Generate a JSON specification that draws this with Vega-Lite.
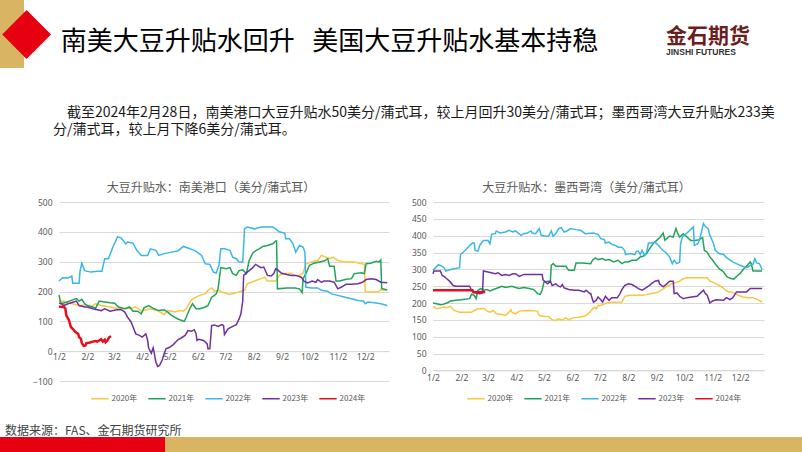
{
  "$schema": "https://vega.github.io/schema/vega-lite/v6.json",
  "padding": 0,
  "background": "white",
  "config": {
    "view": {"stroke": null},
    "font": "Noto Sans CJK SC",
    "axis": {"labelFont": "Noto Sans", "labelFontSize": 8.5, "labelColor": "#595959", "gridColor": "#d9d9d9", "domainColor": "#d9d9d9", "ticks": false},
    "legend": {"symbolType": "stroke", "symbolSize": 300, "symbolStrokeWidth": 1.5, "labelFontSize": 8, "labelColor": "#595959", "labelFont": "Noto Sans CJK SC", "columnPadding": 7, "labelOffset": 2},
    "title": {"font": "Noto Sans CJK SC", "fontSize": 12, "fontWeight": "normal", "color": "#595959", "anchor": "middle", "frame": "group", "offset": 3.3}
  },
  "datasets": {
    "south": [
      {"date":"2000-01-02","year":"2020年","value":167},{"date":"2000-01-07","year":"2020年","value":168},{"date":"2000-01-12","year":"2020年","value":161},{"date":"2000-01-17","year":"2020年","value":159},{"date":"2000-01-24","year":"2020年","value":153},{"date":"2000-02-01","year":"2020年","value":155},{"date":"2000-02-06","year":"2020年","value":148},{"date":"2000-02-11","year":"2020年","value":159},{"date":"2000-02-17","year":"2020年","value":153},{"date":"2000-02-27","year":"2020年","value":148},{"date":"2000-03-07","year":"2020年","value":142},{"date":"2000-03-14","year":"2020年","value":142},{"date":"2000-03-21","year":"2020年","value":145},{"date":"2000-03-26","year":"2020年","value":148},{"date":"2000-04-01","year":"2020年","value":134},{"date":"2000-04-06","year":"2020年","value":139},{"date":"2000-04-11","year":"2020年","value":142},{"date":"2000-04-19","year":"2020年","value":136},{"date":"2000-04-26","year":"2020年","value":123},{"date":"2000-04-30","year":"2020年","value":136},{"date":"2000-05-08","year":"2020年","value":131},{"date":"2000-05-13","year":"2020年","value":136},{"date":"2000-05-17","year":"2020年","value":134},{"date":"2000-05-20","year":"2020年","value":142},{"date":"2000-05-26","year":"2020年","value":172},{"date":"2000-05-31","year":"2020年","value":181},{"date":"2000-06-04","year":"2020年","value":187},{"date":"2000-06-10","year":"2020年","value":192},{"date":"2000-06-13","year":"2020年","value":204},{"date":"2000-06-17","year":"2020年","value":212},{"date":"2000-06-20","year":"2020年","value":201},{"date":"2000-06-24","year":"2020年","value":204},{"date":"2000-07-01","year":"2020年","value":195},{"date":"2000-07-07","year":"2020年","value":190},{"date":"2000-07-16","year":"2020年","value":198},{"date":"2000-07-23","year":"2020年","value":204},{"date":"2000-07-26","year":"2020年","value":226},{"date":"2000-08-03","year":"2020年","value":235},{"date":"2000-08-10","year":"2020年","value":243},{"date":"2000-08-14","year":"2020年","value":248},{"date":"2000-08-17","year":"2020年","value":235},{"date":"2000-08-26","year":"2020年","value":235},{"date":"2000-08-30","year":"2020年","value":254},{"date":"2000-09-05","year":"2020年","value":260},{"date":"2000-09-12","year":"2020年","value":260},{"date":"2000-09-16","year":"2020年","value":254},{"date":"2000-09-21","year":"2020年","value":254},{"date":"2000-09-25","year":"2020年","value":262},{"date":"2000-09-28","year":"2020年","value":293},{"date":"2000-10-04","year":"2020年","value":299},{"date":"2000-10-11","year":"2020年","value":304},{"date":"2000-10-15","year":"2020年","value":321},{"date":"2000-10-20","year":"2020年","value":315},{"date":"2000-10-24","year":"2020年","value":310},{"date":"2000-10-28","year":"2020年","value":315},{"date":"2000-11-02","year":"2020年","value":304},{"date":"2000-11-10","year":"2020年","value":299},{"date":"2000-11-20","year":"2020年","value":299},{"date":"2000-11-28","year":"2020年","value":293},{"date":"2000-12-01","year":"2020年","value":291},{"date":"2000-12-02","year":"2020年","value":198},{"date":"2000-12-16","year":"2020年","value":198},{"date":"2000-12-19","year":"2020年","value":206},{"date":"2000-12-26","year":"2020年","value":204},
      {"date":"2000-01-02","year":"2021年","value":189},{"date":"2000-01-04","year":"2021年","value":159},{"date":"2000-01-10","year":"2021年","value":164},{"date":"2000-01-17","year":"2021年","value":172},{"date":"2000-01-21","year":"2021年","value":176},{"date":"2000-01-24","year":"2021年","value":168},{"date":"2000-01-27","year":"2021年","value":174},{"date":"2000-01-30","year":"2021年","value":159},{"date":"2000-02-02","year":"2021年","value":153},{"date":"2000-02-08","year":"2021年","value":148},{"date":"2000-02-11","year":"2021年","value":144},{"date":"2000-02-15","year":"2021年","value":168},{"date":"2000-02-19","year":"2021年","value":166},{"date":"2000-02-27","year":"2021年","value":162},{"date":"2000-03-03","year":"2021年","value":161},{"date":"2000-03-07","year":"2021年","value":148},{"date":"2000-03-14","year":"2021年","value":142},{"date":"2000-03-19","year":"2021年","value":148},{"date":"2000-03-23","year":"2021年","value":134},{"date":"2000-03-28","year":"2021年","value":134},{"date":"2000-04-01","year":"2021年","value":125},{"date":"2000-04-04","year":"2021年","value":145},{"date":"2000-04-09","year":"2021年","value":153},{"date":"2000-04-15","year":"2021年","value":142},{"date":"2000-04-20","year":"2021年","value":136},{"date":"2000-04-26","year":"2021年","value":139},{"date":"2000-04-30","year":"2021年","value":131},{"date":"2000-05-04","year":"2021年","value":120},{"date":"2000-05-11","year":"2021年","value":108},{"date":"2000-05-18","year":"2021年","value":100},{"date":"2000-05-20","year":"2021年","value":112},{"date":"2000-05-24","year":"2021年","value":142},{"date":"2000-05-27","year":"2021年","value":159},{"date":"2000-05-31","year":"2021年","value":142},{"date":"2000-06-04","year":"2021年","value":142},{"date":"2000-06-10","year":"2021年","value":148},{"date":"2000-06-13","year":"2021年","value":153},{"date":"2000-06-17","year":"2021年","value":181},{"date":"2000-06-20","year":"2021年","value":187},{"date":"2000-06-22","year":"2021年","value":192},{"date":"2000-06-24","year":"2021年","value":209},{"date":"2000-06-27","year":"2021年","value":280},{"date":"2000-07-03","year":"2021年","value":276},{"date":"2000-07-07","year":"2021年","value":280},{"date":"2000-07-10","year":"2021年","value":260},{"date":"2000-07-14","year":"2021年","value":254},{"date":"2000-07-17","year":"2021年","value":270},{"date":"2000-07-21","year":"2021年","value":273},{"date":"2000-07-25","year":"2021年","value":260},{"date":"2000-07-28","year":"2021年","value":304},{"date":"2000-08-01","year":"2021年","value":329},{"date":"2000-08-04","year":"2021年","value":336},{"date":"2000-08-08","year":"2021年","value":343},{"date":"2000-08-12","year":"2021年","value":351},{"date":"2000-08-17","year":"2021年","value":354},{"date":"2000-08-23","year":"2021年","value":360},{"date":"2000-08-26","year":"2021年","value":369},{"date":"2000-08-27","year":"2021年","value":369},{"date":"2000-08-28","year":"2021年","value":209},{"date":"2000-09-07","year":"2021年","value":212},{"date":"2000-09-16","year":"2021年","value":212},{"date":"2000-09-21","year":"2021年","value":209},{"date":"2000-09-24","year":"2021年","value":196},{"date":"2000-09-25","year":"2021年","value":243},{"date":"2000-09-28","year":"2021年","value":260},{"date":"2000-10-02","year":"2021年","value":288},{"date":"2000-10-07","year":"2021年","value":295},{"date":"2000-10-13","year":"2021年","value":299},{"date":"2000-10-18","year":"2021年","value":302},{"date":"2000-10-22","year":"2021年","value":310},{"date":"2000-10-24","year":"2021年","value":285},{"date":"2000-10-29","year":"2021年","value":285},{"date":"2000-10-31","year":"2021年","value":235},{"date":"2000-11-04","year":"2021年","value":235},{"date":"2000-11-10","year":"2021年","value":240},{"date":"2000-11-17","year":"2021年","value":243},{"date":"2000-11-20","year":"2021年","value":260},{"date":"2000-11-28","year":"2021年","value":263},{"date":"2000-12-01","year":"2021年","value":260},{"date":"2000-12-03","year":"2021年","value":293},{"date":"2000-12-08","year":"2021年","value":295},{"date":"2000-12-14","year":"2021年","value":301},{"date":"2000-12-17","year":"2021年","value":299},{"date":"2000-12-19","year":"2021年","value":306},{"date":"2000-12-20","year":"2021年","value":210},{"date":"2000-12-26","year":"2021年","value":205},
      {"date":"2000-01-02","year":"2022年","value":235},{"date":"2000-01-06","year":"2022年","value":246},{"date":"2000-01-12","year":"2022年","value":245},{"date":"2000-01-16","year":"2022年","value":252},{"date":"2000-01-17","year":"2022年","value":228},{"date":"2000-01-24","year":"2022年","value":228},{"date":"2000-01-25","year":"2022年","value":268},{"date":"2000-01-27","year":"2022年","value":295},{"date":"2000-01-30","year":"2022年","value":270},{"date":"2000-02-06","year":"2022年","value":265},{"date":"2000-02-13","year":"2022年","value":268},{"date":"2000-02-18","year":"2022年","value":268},{"date":"2000-02-21","year":"2022年","value":310},{"date":"2000-02-25","year":"2022年","value":310},{"date":"2000-03-01","year":"2022年","value":349},{"date":"2000-03-06","year":"2022年","value":383},{"date":"2000-03-10","year":"2022年","value":380},{"date":"2000-03-15","year":"2022年","value":360},{"date":"2000-03-17","year":"2022年","value":366},{"date":"2000-03-23","year":"2022年","value":362},{"date":"2000-03-27","year":"2022年","value":338},{"date":"2000-04-01","year":"2022年","value":321},{"date":"2000-04-08","year":"2022年","value":321},{"date":"2000-04-11","year":"2022年","value":343},{"date":"2000-04-17","year":"2022年","value":338},{"date":"2000-04-20","year":"2022年","value":321},{"date":"2000-04-26","year":"2022年","value":327},{"date":"2000-05-04","year":"2022年","value":332},{"date":"2000-05-11","year":"2022年","value":336},{"date":"2000-05-17","year":"2022年","value":351},{"date":"2000-05-22","year":"2022年","value":346},{"date":"2000-05-29","year":"2022年","value":338},{"date":"2000-06-01","year":"2022年","value":332},{"date":"2000-06-06","year":"2022年","value":321},{"date":"2000-06-10","year":"2022年","value":293},{"date":"2000-06-15","year":"2022年","value":291},{"date":"2000-06-19","year":"2022年","value":265},{"date":"2000-06-22","year":"2022年","value":262},{"date":"2000-06-25","year":"2022年","value":288},{"date":"2000-06-27","year":"2022年","value":343},{"date":"2000-07-01","year":"2022年","value":343},{"date":"2000-07-07","year":"2022年","value":338},{"date":"2000-07-10","year":"2022年","value":315},{"date":"2000-07-14","year":"2022年","value":310},{"date":"2000-07-17","year":"2022年","value":299},{"date":"2000-07-21","year":"2022年","value":299},{"date":"2000-07-23","year":"2022年","value":410},{"date":"2000-07-26","year":"2022年","value":416},{"date":"2000-08-03","year":"2022年","value":410},{"date":"2000-08-10","year":"2022年","value":416},{"date":"2000-08-23","year":"2022年","value":416},{"date":"2000-08-26","year":"2022年","value":410},{"date":"2000-08-30","year":"2022年","value":400},{"date":"2000-09-05","year":"2022年","value":396},{"date":"2000-09-06","year":"2022年","value":377},{"date":"2000-09-10","year":"2022年","value":377},{"date":"2000-09-14","year":"2022年","value":360},{"date":"2000-09-17","year":"2022年","value":332},{"date":"2000-09-21","year":"2022年","value":354},{"date":"2000-09-25","year":"2022年","value":349},{"date":"2000-09-27","year":"2022年","value":332},{"date":"2000-09-28","year":"2022年","value":215},{"date":"2000-10-04","year":"2022年","value":212},{"date":"2000-10-11","year":"2022年","value":212},{"date":"2000-10-15","year":"2022年","value":204},{"date":"2000-10-22","year":"2022年","value":201},{"date":"2000-10-26","year":"2022年","value":192},{"date":"2000-11-02","year":"2022年","value":187},{"date":"2000-11-10","year":"2022年","value":181},{"date":"2000-11-17","year":"2022年","value":176},{"date":"2000-11-24","year":"2022年","value":170},{"date":"2000-11-30","year":"2022年","value":168},{"date":"2000-12-02","year":"2022年","value":159},{"date":"2000-12-05","year":"2022年","value":165},{"date":"2000-12-12","year":"2022年","value":162},{"date":"2000-12-19","year":"2022年","value":159},{"date":"2000-12-26","year":"2022年","value":153},
      {"date":"2000-01-02","year":"2023年","value":161},{"date":"2000-01-05","year":"2023年","value":159},{"date":"2000-01-07","year":"2023年","value":153},{"date":"2000-01-12","year":"2023年","value":159},{"date":"2000-01-17","year":"2023年","value":164},{"date":"2000-01-21","year":"2023年","value":168},{"date":"2000-01-24","year":"2023年","value":153},{"date":"2000-01-30","year":"2023年","value":148},{"date":"2000-02-02","year":"2023年","value":148},{"date":"2000-02-08","year":"2023年","value":142},{"date":"2000-02-13","year":"2023年","value":139},{"date":"2000-02-17","year":"2023年","value":136},{"date":"2000-02-21","year":"2023年","value":142},{"date":"2000-02-27","year":"2023年","value":134},{"date":"2000-03-05","year":"2023年","value":139},{"date":"2000-03-10","year":"2023年","value":139},{"date":"2000-03-14","year":"2023年","value":131},{"date":"2000-03-17","year":"2023年","value":114},{"date":"2000-03-21","year":"2023年","value":97},{"date":"2000-03-23","year":"2023年","value":81},{"date":"2000-03-26","year":"2023年","value":58},{"date":"2000-03-30","year":"2023年","value":53},{"date":"2000-04-02","year":"2023年","value":47},{"date":"2000-04-06","year":"2023年","value":58},{"date":"2000-04-08","year":"2023年","value":36},{"date":"2000-04-09","year":"2023年","value":11},{"date":"2000-04-12","year":"2023年","value":-7},{"date":"2000-04-14","year":"2023年","value":11},{"date":"2000-04-15","year":"2023年","value":-3},{"date":"2000-04-17","year":"2023年","value":-37},{"date":"2000-04-19","year":"2023年","value":-51},{"date":"2000-04-21","year":"2023年","value":-48},{"date":"2000-04-24","year":"2023年","value":-29},{"date":"2000-04-26","year":"2023年","value":-9},{"date":"2000-04-28","year":"2023年","value":8},{"date":"2000-05-02","year":"2023年","value":13},{"date":"2000-05-06","year":"2023年","value":22},{"date":"2000-05-11","year":"2023年","value":38},{"date":"2000-05-15","year":"2023年","value":45},{"date":"2000-05-19","year":"2023年","value":53},{"date":"2000-05-22","year":"2023年","value":69},{"date":"2000-05-26","year":"2023年","value":67},{"date":"2000-05-29","year":"2023年","value":72},{"date":"2000-05-31","year":"2023年","value":58},{"date":"2000-06-01","year":"2023年","value":36},{"date":"2000-06-03","year":"2023年","value":40},{"date":"2000-06-08","year":"2023年","value":36},{"date":"2000-06-12","year":"2023年","value":25},{"date":"2000-06-13","year":"2023年","value":8},{"date":"2000-06-15","year":"2023年","value":9},{"date":"2000-06-17","year":"2023年","value":86},{"date":"2000-06-20","year":"2023年","value":88},{"date":"2000-06-24","year":"2023年","value":83},{"date":"2000-06-28","year":"2023年","value":89},{"date":"2000-06-30","year":"2023年","value":86},{"date":"2000-07-01","year":"2023年","value":56},{"date":"2000-07-05","year":"2023年","value":75},{"date":"2000-07-10","year":"2023年","value":83},{"date":"2000-07-14","year":"2023年","value":89},{"date":"2000-07-17","year":"2023年","value":108},{"date":"2000-07-19","year":"2023年","value":125},{"date":"2000-07-21","year":"2023年","value":168},{"date":"2000-07-22","year":"2023年","value":254},{"date":"2000-07-26","year":"2023年","value":265},{"date":"2000-08-01","year":"2023年","value":280},{"date":"2000-08-04","year":"2023年","value":291},{"date":"2000-08-10","year":"2023年","value":280},{"date":"2000-08-13","year":"2023年","value":282},{"date":"2000-08-17","year":"2023年","value":254},{"date":"2000-08-21","year":"2023年","value":252},{"date":"2000-08-24","year":"2023年","value":260},{"date":"2000-08-26","year":"2023年","value":276},{"date":"2000-08-28","year":"2023年","value":273},{"date":"2000-09-01","year":"2023年","value":262},{"date":"2000-09-07","year":"2023年","value":257},{"date":"2000-09-12","year":"2023年","value":254},{"date":"2000-09-17","year":"2023年","value":254},{"date":"2000-09-23","year":"2023年","value":248},{"date":"2000-09-26","year":"2023年","value":235},{"date":"2000-09-30","year":"2023年","value":229},{"date":"2000-10-05","year":"2023年","value":235},{"date":"2000-10-09","year":"2023年","value":231},{"date":"2000-10-11","year":"2023年","value":240},{"date":"2000-10-15","year":"2023年","value":231},{"date":"2000-10-18","year":"2023年","value":235},{"date":"2000-10-24","year":"2023年","value":235},{"date":"2000-10-29","year":"2023年","value":231},{"date":"2000-11-02","year":"2023年","value":209},{"date":"2000-11-06","year":"2023年","value":215},{"date":"2000-11-11","year":"2023年","value":224},{"date":"2000-11-17","year":"2023年","value":224},{"date":"2000-11-24","year":"2023年","value":226},{"date":"2000-11-29","year":"2023年","value":231},{"date":"2000-12-03","year":"2023年","value":240},{"date":"2000-12-08","year":"2023年","value":243},{"date":"2000-12-14","year":"2023年","value":240},{"date":"2000-12-19","year":"2023年","value":231},{"date":"2000-12-26","year":"2023年","value":229},
      {"date":"2000-01-02","year":"2024年","value":150},{"date":"2000-01-05","year":"2024年","value":148},{"date":"2000-01-07","year":"2024年","value":150},{"date":"2000-01-09","year":"2024年","value":142},{"date":"2000-01-10","year":"2024年","value":120},{"date":"2000-01-13","year":"2024年","value":103},{"date":"2000-01-15","year":"2024年","value":81},{"date":"2000-01-17","year":"2024年","value":75},{"date":"2000-01-20","year":"2024年","value":64},{"date":"2000-01-23","year":"2024年","value":58},{"date":"2000-01-24","year":"2024年","value":47},{"date":"2000-01-26","year":"2024年","value":41},{"date":"2000-01-27","year":"2024年","value":27},{"date":"2000-01-29","year":"2024年","value":18},{"date":"2000-01-31","year":"2024年","value":19},{"date":"2000-02-01","year":"2024年","value":27},{"date":"2000-02-04","year":"2024年","value":28},{"date":"2000-02-08","year":"2024年","value":32},{"date":"2000-02-11","year":"2024年","value":34},{"date":"2000-02-13","year":"2024年","value":32},{"date":"2000-02-15","year":"2024年","value":36},{"date":"2000-02-17","year":"2024年","value":40},{"date":"2000-02-19","year":"2024年","value":32},{"date":"2000-02-21","year":"2024年","value":38},{"date":"2000-02-22","year":"2024年","value":30},{"date":"2000-02-24","year":"2024年","value":36},{"date":"2000-02-26","year":"2024年","value":47},{"date":"2000-02-28","year":"2024年","value":50}
    ],
    "gulf": [
      {"date":"2000-01-02","year":"2020年","value":190},{"date":"2000-01-06","year":"2020年","value":183},{"date":"2000-01-14","year":"2020年","value":188},{"date":"2000-01-17","year":"2020年","value":186},{"date":"2000-01-21","year":"2020年","value":190},{"date":"2000-01-25","year":"2020年","value":178},{"date":"2000-01-31","year":"2020年","value":173},{"date":"2000-02-13","year":"2020年","value":173},{"date":"2000-02-16","year":"2020年","value":178},{"date":"2000-02-20","year":"2020年","value":183},{"date":"2000-02-27","year":"2020年","value":183},{"date":"2000-03-01","year":"2020年","value":176},{"date":"2000-03-04","year":"2020年","value":173},{"date":"2000-03-08","year":"2020年","value":178},{"date":"2000-03-11","year":"2020年","value":168},{"date":"2000-03-17","year":"2020年","value":166},{"date":"2000-03-21","year":"2020年","value":163},{"date":"2000-03-25","year":"2020年","value":173},{"date":"2000-03-27","year":"2020年","value":180},{"date":"2000-03-28","year":"2020年","value":173},{"date":"2000-04-01","year":"2020年","value":168},{"date":"2000-04-05","year":"2020年","value":176},{"date":"2000-04-16","year":"2020年","value":178},{"date":"2000-04-25","year":"2020年","value":176},{"date":"2000-04-27","year":"2020年","value":163},{"date":"2000-05-02","year":"2020年","value":160},{"date":"2000-05-07","year":"2020年","value":160},{"date":"2000-05-11","year":"2020年","value":150},{"date":"2000-05-15","year":"2020年","value":149},{"date":"2000-05-18","year":"2020年","value":153},{"date":"2000-05-22","year":"2020年","value":150},{"date":"2000-05-26","year":"2020年","value":156},{"date":"2000-05-29","year":"2020年","value":150},{"date":"2000-06-02","year":"2020年","value":156},{"date":"2000-06-09","year":"2020年","value":158},{"date":"2000-06-13","year":"2020年","value":160},{"date":"2000-06-17","year":"2020年","value":163},{"date":"2000-06-21","year":"2020年","value":173},{"date":"2000-06-24","year":"2020年","value":183},{"date":"2000-06-26","year":"2020年","value":188},{"date":"2000-06-28","year":"2020年","value":183},{"date":"2000-06-30","year":"2020年","value":193},{"date":"2000-07-03","year":"2020年","value":193},{"date":"2000-07-07","year":"2020年","value":198},{"date":"2000-07-10","year":"2020年","value":200},{"date":"2000-07-15","year":"2020年","value":202},{"date":"2000-07-26","year":"2020年","value":203},{"date":"2000-07-29","year":"2020年","value":220},{"date":"2000-08-04","year":"2020年","value":223},{"date":"2000-08-17","year":"2020年","value":223},{"date":"2000-08-22","year":"2020年","value":225},{"date":"2000-08-27","year":"2020年","value":228},{"date":"2000-08-31","year":"2020年","value":230},{"date":"2000-09-04","year":"2020年","value":233},{"date":"2000-09-07","year":"2020年","value":238},{"date":"2000-09-11","year":"2020年","value":246},{"date":"2000-09-15","year":"2020年","value":252},{"date":"2000-09-18","year":"2020年","value":257},{"date":"2000-09-22","year":"2020年","value":260},{"date":"2000-09-27","year":"2020年","value":265},{"date":"2000-10-01","year":"2020年","value":272},{"date":"2000-10-05","year":"2020年","value":275},{"date":"2000-10-27","year":"2020年","value":275},{"date":"2000-10-30","year":"2020年","value":265},{"date":"2000-11-02","year":"2020年","value":262},{"date":"2000-11-06","year":"2020年","value":257},{"date":"2000-11-09","year":"2020年","value":252},{"date":"2000-11-13","year":"2020年","value":246},{"date":"2000-11-16","year":"2020年","value":238},{"date":"2000-11-20","year":"2020年","value":233},{"date":"2000-11-23","year":"2020年","value":233},{"date":"2000-11-27","year":"2020年","value":228},{"date":"2000-11-30","year":"2020年","value":223},{"date":"2000-12-05","year":"2020年","value":218},{"date":"2000-12-11","year":"2020年","value":216},{"date":"2000-12-16","year":"2020年","value":216},{"date":"2000-12-21","year":"2020年","value":210},{"date":"2000-12-26","year":"2020年","value":203},
      {"date":"2000-01-02","year":"2021年","value":200},{"date":"2000-01-06","year":"2021年","value":198},{"date":"2000-01-10","year":"2021年","value":195},{"date":"2000-01-13","year":"2021年","value":196},{"date":"2000-01-17","year":"2021年","value":200},{"date":"2000-01-21","year":"2021年","value":206},{"date":"2000-01-27","year":"2021年","value":208},{"date":"2000-02-02","year":"2021年","value":210},{"date":"2000-02-11","year":"2021年","value":213},{"date":"2000-02-13","year":"2021年","value":226},{"date":"2000-02-16","year":"2021年","value":223},{"date":"2000-02-18","year":"2021年","value":213},{"date":"2000-02-20","year":"2021年","value":238},{"date":"2000-02-23","year":"2021年","value":243},{"date":"2000-02-26","year":"2021年","value":238},{"date":"2000-03-01","year":"2021年","value":240},{"date":"2000-03-04","year":"2021年","value":236},{"date":"2000-03-08","year":"2021年","value":240},{"date":"2000-03-11","year":"2021年","value":243},{"date":"2000-03-17","year":"2021年","value":250},{"date":"2000-03-21","year":"2021年","value":246},{"date":"2000-03-28","year":"2021年","value":250},{"date":"2000-04-01","year":"2021年","value":246},{"date":"2000-04-05","year":"2021年","value":243},{"date":"2000-04-10","year":"2021年","value":246},{"date":"2000-04-16","year":"2021年","value":243},{"date":"2000-04-21","year":"2021年","value":240},{"date":"2000-04-25","year":"2021年","value":228},{"date":"2000-04-28","year":"2021年","value":226},{"date":"2000-04-30","year":"2021年","value":238},{"date":"2000-05-02","year":"2021年","value":262},{"date":"2000-05-06","year":"2021年","value":265},{"date":"2000-05-09","year":"2021年","value":265},{"date":"2000-05-10","year":"2021年","value":312},{"date":"2000-05-12","year":"2021年","value":317},{"date":"2000-05-15","year":"2021年","value":309},{"date":"2000-05-26","year":"2021年","value":309},{"date":"2000-05-29","year":"2021年","value":297},{"date":"2000-06-04","year":"2021年","value":297},{"date":"2000-06-06","year":"2021年","value":319},{"date":"2000-06-13","year":"2021年","value":319},{"date":"2000-06-22","year":"2021年","value":317},{"date":"2000-06-24","year":"2021年","value":327},{"date":"2000-06-27","year":"2021年","value":334},{"date":"2000-06-30","year":"2021年","value":329},{"date":"2000-07-05","year":"2021年","value":332},{"date":"2000-07-08","year":"2021年","value":327},{"date":"2000-07-12","year":"2021年","value":329},{"date":"2000-07-17","year":"2021年","value":322},{"date":"2000-07-22","year":"2021年","value":327},{"date":"2000-07-26","year":"2021年","value":317},{"date":"2000-07-29","year":"2021年","value":322},{"date":"2000-08-02","year":"2021年","value":322},{"date":"2000-08-06","year":"2021年","value":327},{"date":"2000-08-11","year":"2021年","value":327},{"date":"2000-08-15","year":"2021年","value":337},{"date":"2000-08-18","year":"2021年","value":339},{"date":"2000-08-22","year":"2021年","value":347},{"date":"2000-08-25","year":"2021年","value":361},{"date":"2000-08-29","year":"2021年","value":376},{"date":"2000-09-02","year":"2021年","value":386},{"date":"2000-09-06","year":"2021年","value":396},{"date":"2000-09-09","year":"2021年","value":408},{"date":"2000-09-11","year":"2021年","value":386},{"date":"2000-09-16","year":"2021年","value":399},{"date":"2000-09-20","year":"2021年","value":396},{"date":"2000-09-23","year":"2021年","value":421},{"date":"2000-09-25","year":"2021年","value":406},{"date":"2000-09-27","year":"2021年","value":396},{"date":"2000-10-01","year":"2021年","value":406},{"date":"2000-10-05","year":"2021年","value":396},{"date":"2000-10-09","year":"2021年","value":386},{"date":"2000-10-14","year":"2021年","value":386},{"date":"2000-10-18","year":"2021年","value":388},{"date":"2000-10-22","year":"2021年","value":394},{"date":"2000-10-24","year":"2021年","value":356},{"date":"2000-10-27","year":"2021年","value":351},{"date":"2000-10-30","year":"2021年","value":337},{"date":"2000-11-02","year":"2021年","value":327},{"date":"2000-11-06","year":"2021年","value":312},{"date":"2000-11-09","year":"2021年","value":302},{"date":"2000-11-13","year":"2021年","value":295},{"date":"2000-11-18","year":"2021年","value":277},{"date":"2000-11-22","year":"2021年","value":273},{"date":"2000-11-25","year":"2021年","value":271},{"date":"2000-11-29","year":"2021年","value":281},{"date":"2000-12-02","year":"2021年","value":288},{"date":"2000-12-06","year":"2021年","value":302},{"date":"2000-12-09","year":"2021年","value":309},{"date":"2000-12-13","year":"2021年","value":322},{"date":"2000-12-14","year":"2021年","value":317},{"date":"2000-12-16","year":"2021年","value":295},{"date":"2000-12-26","year":"2021年","value":295},
      {"date":"2000-01-02","year":"2022年","value":297},{"date":"2000-01-08","year":"2022年","value":314},{"date":"2000-01-12","year":"2022年","value":309},{"date":"2000-01-14","year":"2022年","value":305},{"date":"2000-01-16","year":"2022年","value":295},{"date":"2000-01-20","year":"2022年","value":299},{"date":"2000-01-25","year":"2022年","value":302},{"date":"2000-01-31","year":"2022年","value":305},{"date":"2000-02-01","year":"2022年","value":344},{"date":"2000-02-06","year":"2022年","value":356},{"date":"2000-02-11","year":"2022年","value":371},{"date":"2000-02-14","year":"2022年","value":378},{"date":"2000-02-16","year":"2022年","value":378},{"date":"2000-02-17","year":"2022年","value":356},{"date":"2000-02-20","year":"2022年","value":354},{"date":"2000-02-22","year":"2022年","value":371},{"date":"2000-02-26","year":"2022年","value":386},{"date":"2000-03-02","year":"2022年","value":386},{"date":"2000-03-04","year":"2022年","value":376},{"date":"2000-03-06","year":"2022年","value":404},{"date":"2000-03-10","year":"2022年","value":406},{"date":"2000-03-11","year":"2022年","value":414},{"date":"2000-03-15","year":"2022年","value":408},{"date":"2000-03-21","year":"2022年","value":411},{"date":"2000-03-25","year":"2022年","value":416},{"date":"2000-03-29","year":"2022年","value":411},{"date":"2000-04-01","year":"2022年","value":414},{"date":"2000-04-07","year":"2022年","value":401},{"date":"2000-04-10","year":"2022年","value":406},{"date":"2000-04-14","year":"2022年","value":408},{"date":"2000-04-18","year":"2022年","value":414},{"date":"2000-04-19","year":"2022年","value":408},{"date":"2000-04-23","year":"2022年","value":406},{"date":"2000-04-25","year":"2022年","value":414},{"date":"2000-04-27","year":"2022年","value":421},{"date":"2000-04-29","year":"2022年","value":401},{"date":"2000-05-04","year":"2022年","value":398},{"date":"2000-05-07","year":"2022年","value":398},{"date":"2000-05-10","year":"2022年","value":414},{"date":"2000-05-12","year":"2022年","value":398},{"date":"2000-05-15","year":"2022年","value":406},{"date":"2000-05-18","year":"2022年","value":421},{"date":"2000-05-21","year":"2022年","value":424},{"date":"2000-05-24","year":"2022年","value":411},{"date":"2000-05-27","year":"2022年","value":414},{"date":"2000-05-31","year":"2022年","value":421},{"date":"2000-06-06","year":"2022年","value":418},{"date":"2000-06-11","year":"2022年","value":416},{"date":"2000-06-16","year":"2022年","value":406},{"date":"2000-06-25","year":"2022年","value":408},{"date":"2000-06-30","year":"2022年","value":404},{"date":"2000-07-03","year":"2022年","value":391},{"date":"2000-07-07","year":"2022年","value":388},{"date":"2000-07-08","year":"2022年","value":378},{"date":"2000-07-12","year":"2022年","value":381},{"date":"2000-07-15","year":"2022年","value":374},{"date":"2000-07-19","year":"2022年","value":371},{"date":"2000-07-22","year":"2022年","value":366},{"date":"2000-07-26","year":"2022年","value":366},{"date":"2000-07-29","year":"2022年","value":356},{"date":"2000-07-30","year":"2022年","value":344},{"date":"2000-08-04","year":"2022年","value":347},{"date":"2000-08-09","year":"2022年","value":344},{"date":"2000-08-11","year":"2022年","value":354},{"date":"2000-08-13","year":"2022年","value":354},{"date":"2000-08-15","year":"2022年","value":344},{"date":"2000-08-17","year":"2022年","value":356},{"date":"2000-08-20","year":"2022年","value":341},{"date":"2000-08-22","year":"2022年","value":351},{"date":"2000-08-24","year":"2022年","value":378},{"date":"2000-08-27","year":"2022年","value":378},{"date":"2000-08-31","year":"2022年","value":381},{"date":"2000-09-04","year":"2022年","value":371},{"date":"2000-09-07","year":"2022年","value":361},{"date":"2000-09-13","year":"2022年","value":347},{"date":"2000-09-16","year":"2022年","value":337},{"date":"2000-09-19","year":"2022年","value":317},{"date":"2000-09-21","year":"2022年","value":327},{"date":"2000-09-24","year":"2022年","value":317},{"date":"2000-09-27","year":"2022年","value":322},{"date":"2000-09-28","year":"2022年","value":376},{"date":"2000-09-30","year":"2022年","value":396},{"date":"2000-10-05","year":"2022年","value":408},{"date":"2000-10-10","year":"2022年","value":421},{"date":"2000-10-12","year":"2022年","value":426},{"date":"2000-10-13","year":"2022年","value":371},{"date":"2000-10-17","year":"2022年","value":376},{"date":"2000-10-19","year":"2022年","value":391},{"date":"2000-10-23","year":"2022年","value":436},{"date":"2000-10-24","year":"2022年","value":431},{"date":"2000-10-28","year":"2022年","value":421},{"date":"2000-10-30","year":"2022年","value":401},{"date":"2000-11-03","year":"2022年","value":376},{"date":"2000-11-05","year":"2022年","value":356},{"date":"2000-11-09","year":"2022年","value":347},{"date":"2000-11-14","year":"2022年","value":344},{"date":"2000-11-17","year":"2022年","value":335},{"date":"2000-11-24","year":"2022年","value":322},{"date":"2000-12-02","year":"2022年","value":312},{"date":"2000-12-09","year":"2022年","value":305},{"date":"2000-12-13","year":"2022年","value":312},{"date":"2000-12-16","year":"2022年","value":315},{"date":"2000-12-18","year":"2022年","value":332},{"date":"2000-12-20","year":"2022年","value":319},{"date":"2000-12-23","year":"2022年","value":317},{"date":"2000-12-26","year":"2022年","value":299},
      {"date":"2000-01-02","year":"2023年","value":287},{"date":"2000-01-03","year":"2023年","value":295},{"date":"2000-01-10","year":"2023年","value":295},{"date":"2000-01-12","year":"2023年","value":282},{"date":"2000-01-14","year":"2023年","value":279},{"date":"2000-01-17","year":"2023年","value":272},{"date":"2000-01-20","year":"2023年","value":265},{"date":"2000-01-24","year":"2023年","value":252},{"date":"2000-01-27","year":"2023年","value":250},{"date":"2000-02-11","year":"2023年","value":250},{"date":"2000-02-13","year":"2023年","value":238},{"date":"2000-02-15","year":"2023年","value":233},{"date":"2000-02-18","year":"2023年","value":230},{"date":"2000-02-22","year":"2023年","value":228},{"date":"2000-02-25","year":"2023年","value":230},{"date":"2000-02-26","year":"2023年","value":295},{"date":"2000-03-02","year":"2023年","value":292},{"date":"2000-03-10","year":"2023年","value":287},{"date":"2000-03-13","year":"2023年","value":290},{"date":"2000-03-17","year":"2023年","value":282},{"date":"2000-03-21","year":"2023年","value":285},{"date":"2000-03-25","year":"2023年","value":282},{"date":"2000-03-29","year":"2023年","value":287},{"date":"2000-04-01","year":"2023年","value":287},{"date":"2000-04-05","year":"2023年","value":279},{"date":"2000-04-08","year":"2023年","value":282},{"date":"2000-04-10","year":"2023年","value":285},{"date":"2000-04-30","year":"2023年","value":285},{"date":"2000-05-01","year":"2023年","value":269},{"date":"2000-05-06","year":"2023年","value":257},{"date":"2000-05-09","year":"2023年","value":265},{"date":"2000-05-11","year":"2023年","value":252},{"date":"2000-05-15","year":"2023年","value":257},{"date":"2000-05-18","year":"2023年","value":250},{"date":"2000-05-20","year":"2023年","value":248},{"date":"2000-05-22","year":"2023年","value":255},{"date":"2000-05-24","year":"2023年","value":245},{"date":"2000-05-26","year":"2023年","value":243},{"date":"2000-05-29","year":"2023年","value":240},{"date":"2000-06-04","year":"2023年","value":238},{"date":"2000-06-09","year":"2023年","value":238},{"date":"2000-06-15","year":"2023年","value":233},{"date":"2000-06-17","year":"2023年","value":238},{"date":"2000-06-21","year":"2023年","value":228},{"date":"2000-06-22","year":"2023年","value":228},{"date":"2000-06-24","year":"2023年","value":210},{"date":"2000-06-25","year":"2023年","value":203},{"date":"2000-06-28","year":"2023年","value":208},{"date":"2000-06-30","year":"2023年","value":218},{"date":"2000-07-03","year":"2023年","value":210},{"date":"2000-07-05","year":"2023年","value":203},{"date":"2000-07-08","year":"2023年","value":220},{"date":"2000-07-12","year":"2023年","value":208},{"date":"2000-07-15","year":"2023年","value":216},{"date":"2000-07-21","year":"2023年","value":216},{"date":"2000-07-24","year":"2023年","value":228},{"date":"2000-07-26","year":"2023年","value":240},{"date":"2000-07-29","year":"2023年","value":252},{"date":"2000-08-02","year":"2023年","value":257},{"date":"2000-08-06","year":"2023年","value":255},{"date":"2000-08-09","year":"2023年","value":250},{"date":"2000-08-13","year":"2023年","value":243},{"date":"2000-08-17","year":"2023年","value":238},{"date":"2000-08-20","year":"2023年","value":243},{"date":"2000-08-24","year":"2023年","value":250},{"date":"2000-08-27","year":"2023年","value":257},{"date":"2000-08-31","year":"2023年","value":265},{"date":"2000-09-04","year":"2023年","value":267},{"date":"2000-09-05","year":"2023年","value":257},{"date":"2000-09-09","year":"2023年","value":248},{"date":"2000-09-13","year":"2023年","value":257},{"date":"2000-09-16","year":"2023年","value":265},{"date":"2000-09-20","year":"2023年","value":265},{"date":"2000-09-21","year":"2023年","value":228},{"date":"2000-09-24","year":"2023年","value":230},{"date":"2000-09-27","year":"2023年","value":220},{"date":"2000-10-01","year":"2023年","value":213},{"date":"2000-10-05","year":"2023年","value":216},{"date":"2000-10-10","year":"2023年","value":218},{"date":"2000-10-16","year":"2023年","value":220},{"date":"2000-10-19","year":"2023年","value":228},{"date":"2000-10-23","year":"2023年","value":238},{"date":"2000-10-25","year":"2023年","value":228},{"date":"2000-10-27","year":"2023年","value":223},{"date":"2000-10-30","year":"2023年","value":200},{"date":"2000-11-02","year":"2023年","value":206},{"date":"2000-11-06","year":"2023年","value":210},{"date":"2000-11-14","year":"2023年","value":208},{"date":"2000-11-17","year":"2023年","value":216},{"date":"2000-11-21","year":"2023年","value":210},{"date":"2000-11-24","year":"2023年","value":216},{"date":"2000-11-28","year":"2023年","value":233},{"date":"2000-12-09","year":"2023年","value":233},{"date":"2000-12-13","year":"2023年","value":243},{"date":"2000-12-26","year":"2023年","value":243},
      {"date":"2000-01-02","year":"2024年","value":238},{"date":"2000-02-14","year":"2024年","value":238},{"date":"2000-02-15","year":"2024年","value":232},{"date":"2000-02-28","year":"2024年","value":233}
    ]
  },
  "vconcat": [
    {
      "hconcat": [
        {
          "width": 24, "height": 68,
          "data": {"values": [{}]},
          "mark": {"type": "rect", "opacity": 0},
          "view": {"fill": "#D9B563"},
          "title": {"text": "◆", "font": "DejaVu Sans", "fontSize": 64, "color": "#E60012", "anchor": "start", "frame": "group", "baseline": "middle", "offset": -96.4, "dx": 2}
        },
        {
          "width": 614, "height": 105,
          "data": {"values": [{}]},
          "mark": {"type": "rect", "opacity": 0},
          "title": {"text": "南美大豆升贴水回升\u00a0\u00a0\u00a0美国大豆升贴水基本持稳", "fontSize": 26, "color": "#000000", "anchor": "start", "frame": "group", "baseline": "middle", "offset": -68, "dx": 8.7}
        },
        {
          "width": 100, "height": 68,
          "data": {"values": [{}]},
          "mark": {"type": "rect", "opacity": 0},
          "title": {"text": "金石期货", "subtitle": "JINSHI FUTURES", "fontSize": 21, "fontWeight": "bold", "color": "#6B1E1E", "subtitleFont": "Liberation Sans", "subtitleFontSize": 8.5, "subtitleFontWeight": "bold", "subtitleColor": "#333333", "subtitlePadding": 1, "anchor": "start", "frame": "group", "offset": -56}
        }
      ],
      "spacing": 0
    },
    {
      "title": {"text": ["\u200b\u3000截至2024年2月28日，南美港口大豆升贴水50美分/蒲式耳，较上月回升30美分/蒲式耳；墨西哥湾大豆升贴水233美", "分/蒲式耳，较上月下降6美分/蒲式耳。"], "orient": "top", "anchor": "start", "frame": "group", "offset": 45, "dx": 53, "fontSize": 14, "lineHeight": 17, "color": "#1a1a1a"},
      "spacing": 0,
      "vconcat": [
        {
          "title": {"text": "数据来源：FAS、金石期货研究所", "orient": "bottom", "anchor": "start", "frame": "group", "offset": 23, "dx": 5, "fontSize": 12, "color": "#404040"},
          "spacing": 18,
          "resolve": {"scale": {"color": "independent"}, "legend": {"color": "independent"}},
          "hconcat": [
            {"width": 1, "height": 1, "data": {"values": [{}]}, "mark": {"type": "rect", "opacity": 0}},
            {
              "width": 330, "height": 179,
              "data": {"name": "south"},
              "title": {"text": "大豆升贴水：南美港口（美分/蒲式耳）", "dx": -13},
              "mark": {"type": "line", "interpolate": "linear"},
              "encoding": {
                "x": {"field": "date", "type": "temporal",
                  "scale": {"type": "utc", "domain": [{"year": 2000, "month": 1, "date": 2, "utc": true}, {"year": 2000, "month": 12, "date": 28, "utc": true}]},
                  "axis": {"title": null, "labelExpr": "utcFormat(datum.value, '%-m/%-d')", "offset": -29.83, "grid": false, "domain": true, "labelPadding": 1, "labelFlush": false, "labelOverlap": false,
                    "values": [{"year":2000,"month":1,"date":2,"utc":true},{"year":2000,"month":2,"date":2,"utc":true},{"year":2000,"month":3,"date":2,"utc":true},{"year":2000,"month":4,"date":2,"utc":true},{"year":2000,"month":5,"date":2,"utc":true},{"year":2000,"month":6,"date":2,"utc":true},{"year":2000,"month":7,"date":2,"utc":true},{"year":2000,"month":8,"date":2,"utc":true},{"year":2000,"month":9,"date":2,"utc":true},{"year":2000,"month":10,"date":2,"utc":true},{"year":2000,"month":11,"date":2,"utc":true},{"year":2000,"month":12,"date":2,"utc":true}]}},
                "y": {"field": "value", "type": "quantitative", "scale": {"domain": [-100, 500], "nice": false},
                  "axis": {"title": null, "values": [-100, 0, 100, 200, 300, 400, 500], "domain": false, "grid": true, "labelPadding": 7, "minExtent": 39.5, "maxExtent": 39.5}},
                "color": {"field": "year", "type": "nominal",
                  "scale": {"domain": ["2020年", "2021年", "2022年", "2023年", "2024年"], "range": ["#F9C640", "#22A35A", "#3AB7E6", "#7030A0", "#E3101B"]},
                  "legend": {"title": null, "orient": "none", "direction": "horizontal", "legendX": 31.5, "legendY": 187}},
                "strokeWidth": {"condition": {"test": "datum.year === '2024年'", "value": 2.5}, "value": 1.5}
              }
            },
            {
              "width": 331, "height": 168.4,
              "data": {"name": "gulf"},
              "title": {"text": "大豆升贴水：墨西哥湾（美分/蒲式耳）", "dx": -12},
              "mark": {"type": "line", "interpolate": "linear"},
              "encoding": {
                "x": {"field": "date", "type": "temporal",
                  "scale": {"type": "utc", "domain": [{"year": 2000, "month": 1, "date": 2, "utc": true}, {"year": 2000, "month": 12, "date": 28, "utc": true}]},
                  "axis": {"title": null, "labelExpr": "utcFormat(datum.value, '%-m/%-d')", "grid": false, "domain": true, "labelPadding": 3, "labelFlush": false, "labelOverlap": false,
                    "values": [{"year":2000,"month":1,"date":2,"utc":true},{"year":2000,"month":2,"date":2,"utc":true},{"year":2000,"month":3,"date":2,"utc":true},{"year":2000,"month":4,"date":2,"utc":true},{"year":2000,"month":5,"date":2,"utc":true},{"year":2000,"month":6,"date":2,"utc":true},{"year":2000,"month":7,"date":2,"utc":true},{"year":2000,"month":8,"date":2,"utc":true},{"year":2000,"month":9,"date":2,"utc":true},{"year":2000,"month":10,"date":2,"utc":true},{"year":2000,"month":11,"date":2,"utc":true},{"year":2000,"month":12,"date":2,"utc":true}]}},
                "y": {"field": "value", "type": "quantitative", "scale": {"domain": [0, 500], "nice": false},
                  "axis": {"title": null, "values": [0, 50, 100, 150, 200, 250, 300, 350, 400, 450, 500], "domain": false, "grid": true, "labelPadding": 7, "minExtent": 24, "maxExtent": 24}},
                "color": {"field": "year", "type": "nominal",
                  "scale": {"domain": ["2020年", "2021年", "2022年", "2023年", "2024年"], "range": ["#F9C640", "#22A35A", "#3AB7E6", "#7030A0", "#E3101B"]},
                  "legend": {"title": null, "orient": "none", "direction": "horizontal", "legendX": 33.5, "legendY": 187}},
                "strokeWidth": {"condition": {"test": "datum.year === '2024年'", "value": 2.5}, "value": 1.5}
              }
            }
          ]
        }
      ]
    },
    {
      "hconcat": [
        {"width": 165, "height": 15, "data": {"values": [{}]}, "mark": {"type": "rect", "opacity": 0}, "view": {"fill": "#E60012"}},
        {"width": 637, "height": 15, "data": {"values": [{}]}, "mark": {"type": "rect", "opacity": 0}, "view": {"fill": "#D9B563"}}
      ],
      "spacing": 0
    }
  ],
  "spacing": 0
}
